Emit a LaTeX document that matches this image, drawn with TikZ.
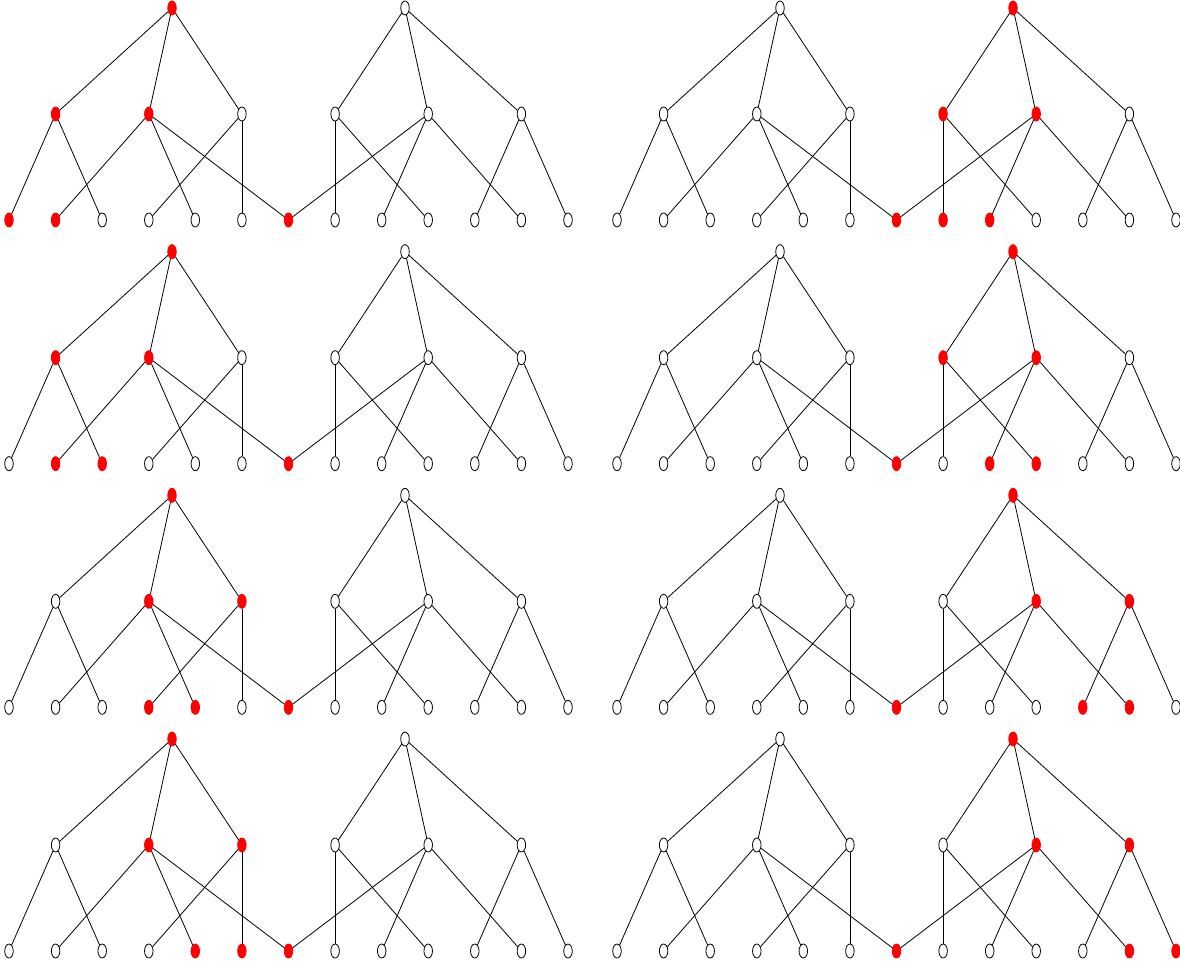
\documentclass[tikz,border=0pt]{standalone}
\usetikzlibrary{shapes.geometric}
\tikzset{
 vtx/.style={ellipse, inner sep=0pt, minimum width=8.5pt, minimum height=14pt, line width=0.8pt},
 wnode/.style={vtx, draw=black, fill=white},
 rnode/.style={vtx, draw=red, fill=red},
 red/.style={s-#1/.style=rnode},
 st/.style={s-#1},
 edge/.style={line width=0.8pt, black},
 allwhite/.style={s-L/.style=wnode, s-R/.style=wnode, s-A/.style=wnode, s-B/.style=wnode,
  s-C/.style=wnode, s-D/.style=wnode, s-E/.style=wnode, s-F/.style=wnode,
  s-1/.style=wnode, s-2/.style=wnode, s-3/.style=wnode, s-4/.style=wnode, s-5/.style=wnode,
  s-6/.style=wnode, s-7/.style=wnode, s-8/.style=wnode, s-9/.style=wnode, s-10/.style=wnode,
  s-11/.style=wnode, s-12/.style=wnode, s-13/.style=wnode}
}
\newcommand\mypanel[4]{%
\begin{scope}[shift={(#2,#3)}, allwhite, red/.list={#4}]
 \foreach \n/\x/\y in {L/172/8, R/405/8,
   A/55.6/114, B/148.8/114, C/241.9/114, D/335.1/114, E/428.2/114, F/521.4/114,
   1/9/220, 2/55.6/220, 3/102.2/220, 4/148.8/220, 5/195.3/220, 6/241.9/220, 7/288.5/220,
   8/335.1/220, 9/381.7/220, 10/428.2/220, 11/474.8/220, 12/521.4/220, 13/568/220}
  \node[st/.expanded=\n] (#1-\n) at (\x,\y) {};
 \foreach \a/\b in {L/A, L/B, L/C, R/D, R/E, R/F, A/1, A/3, B/2, B/5, B/7, C/4, C/6,
   D/8, D/10, E/7, E/9, E/12, F/11, F/13}
  \draw[edge] (#1-\a) -- (#1-\b);
\end{scope}}
\begin{document}
\begin{tikzpicture}[x=1pt, y=-1pt]
\useasboundingbox (0,0) rectangle (1180,965);
\mypanel{p1}{0}{0}{L,A,B,1,2,7}
\mypanel{p2}{608}{0}{R,D,E,7,8,9}
\mypanel{p3}{0}{243.67}{L,A,B,2,3,7}
\mypanel{p4}{608}{243.67}{R,D,E,7,9,10}
\mypanel{p5}{0}{487.33}{L,B,C,4,5,7}
\mypanel{p6}{608}{487.33}{R,E,F,7,11,12}
\mypanel{p7}{0}{731}{L,B,C,5,6,7}
\mypanel{p8}{608}{731}{R,E,F,7,12,13}
\end{tikzpicture}
\end{document}
